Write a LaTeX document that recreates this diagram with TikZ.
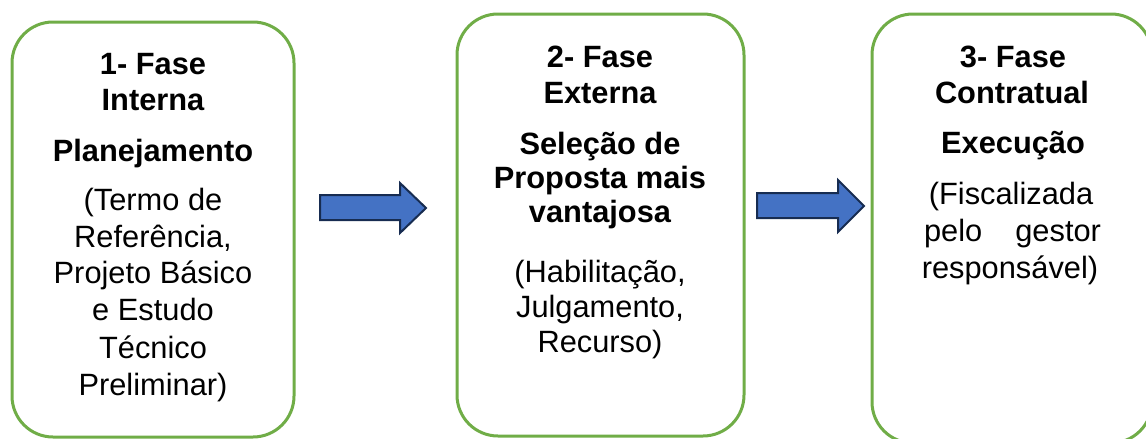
\documentclass[tikz,border=0pt]{standalone}
\usepackage{fontspec}
\setmainfont{Liberation Sans}
\definecolor{phasegreen}{HTML}{70AD47}
\definecolor{arrowblue}{HTML}{4472C4}
\definecolor{arrowedge}{HTML}{172C51}
\begin{document}
\begin{tikzpicture}[x=1pt,y=-1pt,
  phase/.style={draw=phasegreen, line width=3pt, rounded corners=41pt, inner sep=0pt, fill=white},
  txt/.style={anchor=base, inner sep=0pt, font=\fontsize{30.8}{37}\selectfont},
  hd/.style={anchor=base, inner sep=0pt, font=\fontsize{30.8}{37}\selectfont\bfseries},
  blockarrow/.style={fill=arrowblue, draw=arrowedge, line width=2pt, line join=miter}]
\useasboundingbox (0,0) rectangle (1146,439);
\clip (0,0) rectangle (1146,439);

% boxes
\node[phase, minimum width=282pt, minimum height=415pt] (b1) at (153,229.5) {};
\node[phase, minimum width=287pt, minimum height=422pt] (b2) at (600.5,225) {};
\node[phase, minimum width=280pt, minimum height=429pt] (b3) at (1012,228.5) {};

% block arrows
\draw[blockarrow] (320,195) -- (400,195) -- (400,183) -- (426,208) -- (400,233) -- (400,220) -- (320,220) -- cycle;
\draw[blockarrow] (757,193) -- (838,193) -- (838,180) -- (864,206) -- (838,232) -- (838,218) -- (757,218) -- cycle;

% box 1 text
\node[hd]  (t11) at (153,74)  {1- Fase};
\node[hd]  (t12) at (153,110) {Interna};
\node[hd]  (t13) at (153,161) {Planejamento};
\node[txt] (t14) at (153,210) {(Termo de};
\node[txt] (t15) at (153,247) {Referência,};
\node[txt] (t16) at (153,283) {Projeto Básico};
\node[txt] (t17) at (153,320) {e Estudo};
\node[txt] (t18) at (153,358) {Técnico};
\node[txt] (t19) at (153,395) {Preliminar)};

% box 2 text
\node[hd]  (t21) at (600,67)  {2- Fase};
\node[hd]  (t22) at (600,103) {Externa};
\node[hd]  (t23) at (600,154) {Seleção de};
\node[hd]  (t24) at (600,188) {Proposta mais};
\node[hd]  (t25) at (600,222) {vantajosa};
\node[txt] (t26) at (600,282) {(Habilitação,};
\node[txt] (t27) at (600,317) {Julgamento,};
\node[txt] (t28) at (600,352) {Recurso)};

% box 3 text
\node[hd]  (t31) at (1013,67)  {3- Fase};
\node[hd]  (t32) at (1012,103) {Contratual};
\node[hd]  (t33) at (1013,153) {Execução};
\node[txt] (t34) at (1011,204) {(Fiscalizada};
\node[txt] (t35) at (1012.5,241) {\makebox[177pt][s]{pelo\hfill gestor}};
\node[txt] (t36) at (1010,278) {responsável)};
\end{tikzpicture}
\end{document}
